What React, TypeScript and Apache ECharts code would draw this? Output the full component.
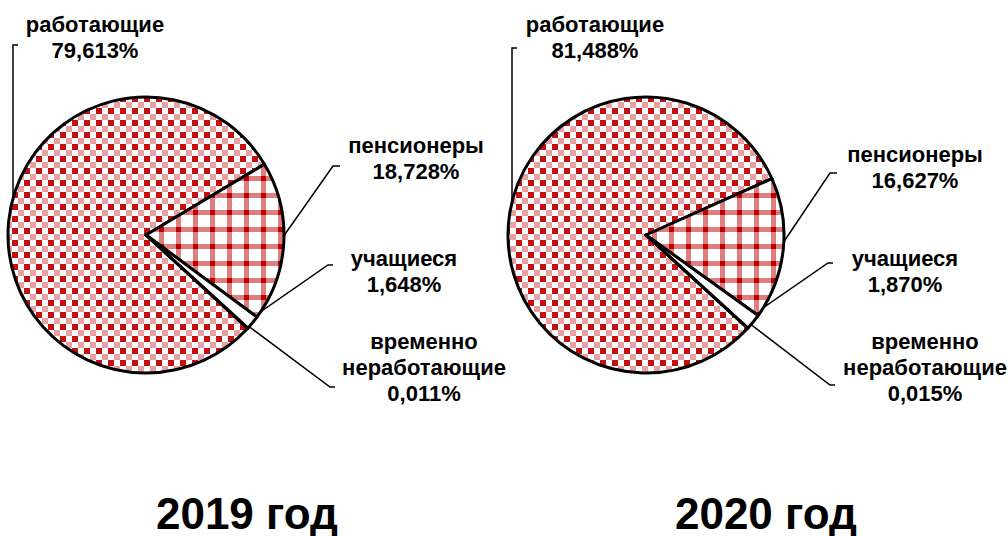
import React, { useEffect, useRef } from 'react';
import * as echarts from 'echarts';

// ---- data ----
const categories = ['работающие', 'пенсионеры', 'учащиеся', 'временно\nнеработающие'];
const yearTitles = ['2019 год', '2020 год'];
const values2019 = [79.613, 18.728, 1.648, 0.011];
const values2020 = [81.488, 16.627, 1.87, 0.015];

// ---- layout (positions relative to pie centres) ----
const PIE_CENTERS = [
  [146, 235],
  [646, 235],
];
const PIE_RADIUS = 138;
const START_ANGLE = 317.5;
const LABEL_OFFSETS = [
  [[-51, -197.5], [270, -77], [258, 36], [278, 132.5]],
  [[-51, -197.5], [269, -68], [259, 36], [279, 132.5]],
];
const LINE_OFFSETS = [
  [
    [[-133, -30], [-133, -190], [-128, -190]],
    [[137, 2], [187, -69], [194, -69]],
    [[107, 82], [182, 30], [187, 30]],
    [[101, 90], [184, 152], [189, 152]],
  ],
  [
    [[-134, -30], [-134, -187], [-129, -187]],
    [[137, 8], [184, -62], [191, -62]],
    [[111, 77], [182, 28], [187, 28]],
    [[99, 85], [184, 150], [189, 150]],
  ],
];
const TITLE_POS = [
  [247, 513],
  [766, 513],
];

const FONT = '"Liberation Sans", Arial, sans-serif';

function makeChecker(): string {
  const c = document.createElement('canvas');
  const s = 6;
  c.width = s * 2;
  c.height = s * 2;
  const g = c.getContext('2d')!;
  g.fillStyle = '#ffffff';
  g.fillRect(0, 0, c.width, c.height);
  g.fillStyle = '#C41010';
  g.fillRect(0, 0, s, s);
  g.fillStyle = '#E6A2A2';
  g.fillRect(s, s, s, s);
  return c.toDataURL();
}

function makePlaid(): string {
  const c = document.createElement('canvas');
  const t = 17;
  c.width = t;
  c.height = t;
  const g = c.getContext('2d')!;
  g.fillStyle = '#ffffff';
  g.fillRect(0, 0, t, t);
  g.fillStyle = 'rgba(200,40,40,0.6)';
  g.fillRect(6, 0, 5, t);
  g.fillRect(0, 6, t, 5);
  g.fillStyle = '#C00000';
  g.fillRect(6, 6, 5, 5);
  return c.toDataURL();
}

export default function App() {
  const ref = useRef<HTMLDivElement>(null);

  useEffect(() => {
    document.body.style.margin = '0';
    if (!ref.current) return;
    const chart = echarts.init(ref.current, null, { renderer: 'svg' });

    const checker = { image: makeChecker(), repeat: 'repeat', imageWidth: 12, imageHeight: 12 };
    const plaid = { image: makePlaid(), repeat: 'repeat', imageWidth: 17, imageHeight: 17 };
    const fills: any[] = [checker, plaid, '#ffffff', '#ffffff'];

    const allValues = [values2019, values2020];

    const series = allValues.map((vals, s) => {
      const [cx, cy] = PIE_CENTERS[s];
      return {
        type: 'pie',
        center: [cx, cy],
        radius: [0, PIE_RADIUS],
        startAngle: START_ANGLE,
        clockwise: true,
        avoidLabelOverlap: false,
        silent: true,
        emphasis: { disabled: true },
        itemStyle: { borderColor: '#000', borderWidth: 3 },
        label: {
          show: true,
          position: 'outside',
          color: '#000',
          fontFamily: FONT,
          fontWeight: 'bold',
          fontSize: 22,
          lineHeight: 26,
          align: 'center',
          formatter: (p: any) => `${p.name}\n${Number(p.value).toFixed(3).replace('.', ',')}%`,
        },
        labelLine: {
          show: true,
          length: 10,
          length2: 10,
          smooth: false,
          lineStyle: { color: '#000', width: 1.5 },
        },
        labelLayout: (params: any) => {
          const i = params.dataIndex;
          const lo = LABEL_OFFSETS[s][i];
          return {
            x: cx + lo[0],
            y: cy + lo[1],
            align: 'center',
            verticalAlign: 'middle',
            labelLinePoints: LINE_OFFSETS[s][i].map((p) => [cx + p[0], cy + p[1]]),
          };
        },
        data: categories.map((name, i) => ({
          name,
          value: vals[i],
          itemStyle: { color: fills[i] },
        })),
      };
    });

    chart.setOption({
      animation: false,
      backgroundColor: '#ffffff',
      series,
      graphic: yearTitles.map((t, i) => ({
        type: 'text',
        x: TITLE_POS[i][0],
        y: TITLE_POS[i][1],
        style: {
          text: t,
          align: 'center',
          verticalAlign: 'middle',
          fontFamily: FONT,
          fontWeight: 'bold',
          fontSize: 44,
          fill: '#000',
        },
      })),
    } as any);

    return () => chart.dispose();
  }, []);

  return (
    <div
      ref={ref}
      style={{ position: 'absolute', left: 0, top: 0, width: 1008, height: 536 }}
    />
  );
}
